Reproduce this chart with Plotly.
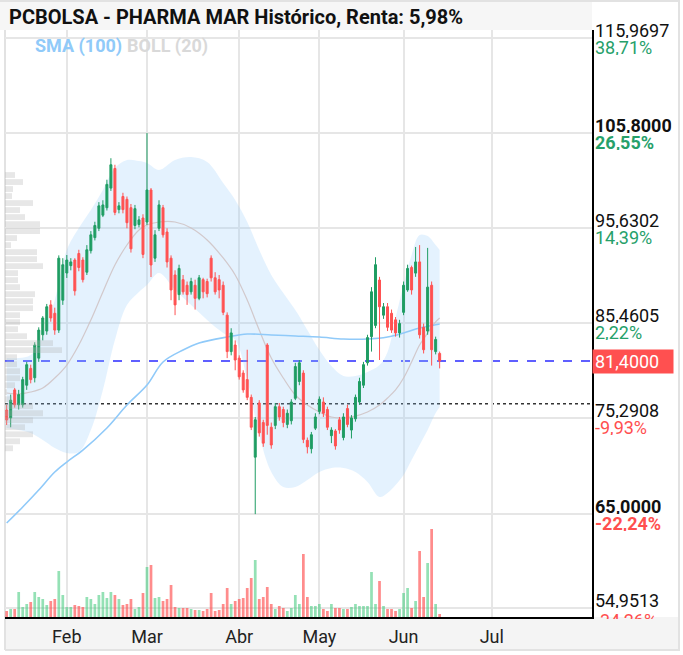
import pandas as pd
import plotly.graph_objects as go

# ---------------- data ----------------
holidays = ["2021-04-02", "2021-04-05"]
dates = [d for d in pd.bdate_range("2021-01-11", "2021-06-14")
         if d.strftime("%Y-%m-%d") not in holidays]

open_ = [76.15, 75.30, 78.30, 76.70, 76.70, 78.80, 80.60, 79.60, 81.70, 84.20, 84.60, 87.40, 86.50, 84.70, 87.90,
         90.81, 91.60, 92.20, 92.90, 92.20, 90.90, 93.20, 94.60, 95.60, 97.00, 97.80, 99.90, 102.00, 97.60, 99.00,
         98.70, 97.80, 95.90, 96.00, 96.70,
         96.27, 99.70, 92.40, 95.60, 97.80, 95.20, 92.40, 90.60, 88.50, 90.10, 89.50, 88.80, 89.50, 88.10, 90.10,
         89.90, 92.40, 90.30, 90.10, 89.50, 86.30, 82.40, 83.10,
         81.70, 80.10, 79.40, 77.50, 71.10, 76.90, 74.80, 83.10, 74.30, 74.50, 76.50, 76.20, 74.60, 75.00, 77.40,
         79.20, 80.10, 72.90, 72.00, 74.20,
         76.00, 77.00, 76.20, 73.40, 73.90, 75.10, 73.20, 76.30, 74.00, 75.20, 77.00, 78.80, 81.20, 84.00, 85.20,
         90.06, 86.30, 87.20, 86.50, 85.80, 84.40,
         86.60, 89.00, 91.40, 90.80, 92.00, 85.00, 84.60, 89.50, 82.40, 82.20]
high = [76.68, 77.80, 78.50, 78.30, 79.70, 81.30, 81.00, 83.40, 85.00, 86.20, 87.50, 87.90, 87.10, 92.70, 92.40,
        92.74, 92.40, 92.40, 93.30, 92.50, 93.80, 95.30, 96.30, 98.40, 98.60, 100.80, 103.10, 102.40, 98.40, 99.40,
        99.00, 98.20, 98.10, 96.90, 97.10,
        105.80, 99.91, 95.40, 98.60, 98.10, 95.60, 92.70, 91.10, 91.70, 90.60, 89.90, 90.30, 90.10, 90.60, 90.30,
        90.20, 92.70, 90.90, 90.60, 89.90, 86.60, 84.90, 83.60,
        82.00, 80.40, 82.60, 77.80, 75.40, 77.20, 75.10, 83.30, 74.80, 76.90, 76.90, 76.50, 76.20, 77.30, 81.20,
        81.50, 80.40, 73.20, 73.80, 75.80,
        77.60, 77.50, 76.50, 74.30, 74.10, 75.40, 75.80, 76.70, 75.60, 77.80, 79.60, 81.30, 84.20, 89.30, 92.50,
        90.40, 87.60, 87.60, 86.90, 86.10, 85.80,
        89.90, 91.70, 91.60, 93.60, 93.80, 85.40, 93.50, 89.90, 84.00, 82.40]
low = [74.54, 74.30, 76.40, 76.20, 76.40, 78.30, 79.00, 79.10, 81.30, 83.60, 84.20, 85.60, 84.20, 84.40, 87.40,
       90.28, 91.10, 88.40, 91.00, 89.80, 90.60, 92.90, 94.30, 95.30, 96.80, 97.50, 99.60, 97.00, 97.20, 97.20,
       95.60, 93.00, 95.50, 95.70, 92.40,
       95.95, 90.38, 92.00, 95.30, 94.60, 91.40, 87.90, 86.30, 87.90, 88.50, 87.40, 88.50, 86.90, 87.90, 88.10,
       88.20, 89.90, 88.50, 88.10, 86.30, 81.70, 82.00, 80.40,
       79.40, 78.00, 77.20, 74.00, 65.00, 73.30, 72.20, 73.50, 72.00, 74.10, 75.00, 74.30, 74.20, 74.60, 77.20,
       78.80, 72.60, 71.50, 71.50, 74.00,
       75.70, 75.40, 74.00, 72.60, 71.90, 73.60, 72.90, 74.30, 73.10, 74.90, 76.70, 78.50, 80.90, 82.40, 84.90,
       81.50, 85.90, 84.60, 84.40, 84.00, 83.90,
       86.30, 88.80, 88.50, 90.40, 83.80, 82.20, 84.20, 80.90, 82.10, 80.60]
close = [75.08, 77.20, 76.70, 77.80, 79.40, 81.00, 79.40, 83.10, 84.70, 86.00, 87.20, 86.00, 84.70, 92.40, 91.70,
         92.20, 92.00, 88.90, 91.40, 90.10, 93.30, 94.90, 95.90, 98.00, 98.10, 100.30, 102.40, 97.30, 98.00, 97.60,
         96.20, 93.40, 97.70, 96.50, 92.80,
         99.70, 91.67, 94.90, 98.10, 94.90, 92.00, 89.00, 87.40, 91.30, 88.80, 88.50, 89.90, 88.10, 90.30, 88.80,
         88.60, 90.30, 88.80, 89.00, 86.60, 82.40, 84.40, 81.50,
         79.70, 78.30, 77.50, 74.30, 75.10, 73.70, 72.60, 74.50, 72.40, 76.50, 75.40, 74.80, 75.80, 77.00, 80.80,
         81.20, 73.00, 72.20, 73.50, 75.40,
         77.30, 75.80, 74.30, 74.00, 72.30, 74.00, 75.40, 74.60, 75.30, 77.50, 79.20, 81.00, 83.90, 88.80, 91.70,
         87.20, 87.20, 85.00, 84.70, 84.40, 85.40,
         89.50, 91.30, 89.00, 92.00, 84.20, 82.60, 89.30, 82.60, 83.70, 81.40]
volume_k = [30, 40, 40, 125, 50, 65, 75, 125, 100, 90, 60, 80, 90, 230, 110,
            50, 50, 60, 55, 50, 100, 90, 65, 110, 125, 95, 125, 110, 90, 60, 65, 90, 40, 50, 120,
            250, 260, 95, 100, 80, 90, 160, 50, 45, 45, 45, 40, 35, 35, 30, 40, 120, 30, 35, 65, 145, 65, 80,
            90, 95, 145, 195, 285, 90, 100, 150, 65, 40, 55, 45, 30, 45, 110, 65, 315, 100, 55, 55,
            65, 40, 30, 65, 45, 45, 40, 40, 50, 65, 55, 55, 55, 225, 65, 180, 55, 40, 40, 30, 40,
            120, 145, 45, 80, 330, 100, 270, 440, 65, 15]

# Bollinger (20) at sample sessions (index into dates)
bb_idx = [0, 3, 6, 9, 12, 15, 18, 21, 24, 27, 30, 33, 35, 38, 42, 46, 50, 54, 57, 60, 63, 66, 69, 72, 75,
          78, 81, 84, 87, 90, 93, 95, 97, 99, 101, 103, 105, 107, 108]
bb_upper = [81.71, 81.71, 82.03, 84.18, 87.92, 93.28, 95.63, 97.56, 99.70, 102.05, 102.91, 102.80, 102.59,
            101.84, 102.91, 103.23, 102.70, 100.45, 98.63, 96.27, 93.28, 90.60, 88.67, 86.85, 84.71,
            82.57, 80.86, 79.79, 79.79, 80.21, 80.96, 82.36, 86.00, 89.53, 92.74, 94.88, 94.77, 93.81, 93.28]
bb_lower = [74.22, 74.01, 73.68, 72.93, 72.08, 71.54, 71.65, 74.01, 78.29, 83.64, 87.39, 88.78, 89.53,
            90.81, 88.99, 87.39, 85.78, 84.39, 83.64, 79.36, 73.47, 69.51, 67.90, 67.90, 68.65,
            69.51, 69.94, 69.94, 69.51, 68.44, 66.83, 67.26, 68.12, 69.19, 70.79, 72.40, 74.01, 75.83, 76.47]
bb_mid = [77.97, 77.86, 78.07, 78.50, 79.57, 80.96, 83.10, 85.78, 88.78, 91.67, 93.81, 95.42, 95.95,
          96.27, 96.27, 95.63, 94.35, 92.42, 90.60, 87.92, 84.71, 81.71, 79.57, 77.75, 76.68,
          75.93, 75.40, 75.29, 75.50, 75.93, 76.68, 77.43, 78.29, 79.57, 81.29, 83.10, 84.39, 85.57, 85.99]

# SMA (100)
sma_idx = [0, 4, 8, 12, 15, 19, 25, 30, 35, 39, 44, 48, 55, 60, 66, 72, 78, 84, 90, 95, 99, 103, 108]
sma100 = [64.05, 65.76, 67.58, 69.51, 70.58, 71.86, 74.22, 76.68, 78.82, 81.29, 82.57, 83.32, 83.96,
          84.28, 84.18, 84.07, 83.96, 83.75, 83.75, 83.96, 84.39, 84.92, 85.35]

# volume by price (left profile)
prof_price = [101.30, 100.55, 99.80, 99.05, 98.30, 97.55, 96.80, 96.05, 95.30, 94.55, 93.80, 93.05, 92.30,
              91.55, 90.80, 90.05, 89.30, 88.55, 87.80, 87.05, 86.30, 85.55, 84.80, 84.05, 83.30, 82.55,
              81.80, 81.05, 80.30, 79.55, 78.80, 78.05, 77.30, 76.55, 75.80, 75.05, 74.30, 73.55, 72.80, 72.05]
prof_vol = [100, 180, 80, 70, 280, 150, 200, 350, 350, 120, 60, 320, 320, 380, 130, 130, 150, 300, 280, 280,
            150, 150, 130, 220, 480, 570, 120, 120, 150, 150, 100, 20, 70, 280, 380, 280, 200, 280, 150, 80]

year_start = 76.81
title_text = "PCBOLSA - PHARMA MAR Histórico, Renta: 5,98%"
ytick_vals = [115.9697, 105.8, 95.6302, 85.4605, 75.2908, 65.0, 54.9513]
ytick_pct = ["38,71%", "26,55%", "14,39%", "2,22%", "-9,93%", "-22,24%", "-34,26%"]
ytick_bold = [False, True, False, False, False, True, False]
xtick_dates = ["2021-02-01", "2021-03-01", "2021-04-01", "2021-05-03", "2021-06-01", "2021-07-01"]
xtick_text = ["Feb", "Mar", "Abr", "May", "Jun", "Jul"]

# ---------------- style ----------------
GREEN = "#1f9d63"
RED = "#ff5252"
PCT_GREEN = "#26a06a"
PCT_RED = "#ff4f4f"
FONT = "Roboto"
W, H = 683, 655
L, R, T, B = 5, 91, 30, 38
PW, PH = W - L - R, H - T - B
Y_RANGE = [53.988, 116.826]

def px_x(px):
    return (px - L) / PW

def px_y(py):
    return 1 - (py - T) / PH

bb_x = [dates[i] for i in bb_idx]
sma_x = [dates[i] for i in sma_idx]
vol_colors = ["rgba(60,200,120,0.55)" if c >= o else "rgba(255,70,70,0.62)" for o, c in zip(open_, close)]

fig = go.Figure()
fig.add_trace(go.Scatter(x=bb_x, y=bb_lower, mode="lines", line=dict(width=0, shape="spline"),
                         hoverinfo="skip", showlegend=False))
fig.add_trace(go.Scatter(x=bb_x, y=bb_upper, mode="lines", line=dict(width=0, shape="spline"),
                         fill="tonexty", fillcolor="rgba(144,202,249,0.24)", hoverinfo="skip", showlegend=False))
fig.add_trace(go.Scatter(x=bb_x, y=bb_mid, mode="lines",
                         line=dict(color="rgba(205,190,190,0.8)", width=1.2, shape="spline"), showlegend=False))
fig.add_trace(go.Scatter(x=sma_x, y=sma100, mode="lines",
                         line=dict(color="#90caf9", width=1.6, shape="spline"), showlegend=False))
fig.add_trace(go.Bar(y=prof_price, x=prof_vol, orientation="h", xaxis="x2", yaxis="y",
                     width=0.62, marker=dict(color="rgba(175,175,175,0.3)", line=dict(width=0)),
                     showlegend=False))
fig.add_trace(go.Bar(x=dates, y=volume_k, yaxis="y2", marker=dict(color=vol_colors, line=dict(width=0)),
                     showlegend=False))
fig.add_trace(go.Candlestick(x=dates, open=open_, high=high, low=low, close=close, yaxis="y3",
                             increasing=dict(line=dict(color=GREEN, width=1), fillcolor=GREEN),
                             decreasing=dict(line=dict(color=RED, width=1), fillcolor=RED),
                             showlegend=False))

annotations = []
last = len(ytick_vals) - 1
for i, (v, pct, bold) in enumerate(zip(ytick_vals, ytick_pct, ytick_bold)):
    price_txt = f"{v:.4f}".replace(".", ",")
    col = PCT_GREEN if not pct.startswith("-") else PCT_RED
    if bold:
        price_txt = f"<b>{price_txt}</b>"
        pct = f"<b>{pct}</b>"
    annotations.append(dict(x=1, xref="paper", y=v, yref="y", xanchor="left", yanchor="middle",
                            xshift=2, yshift=8, height=16, borderpad=0, text=price_txt, showarrow=False,
                            font=dict(family=FONT, size=18, color="#111")))
    if i == last:
        # partly hidden by the date band, as in the original
        annotations.append(dict(x=1, xref="paper", y=v, yref="y", xanchor="left", yanchor="top",
                                xshift=2, yshift=-1, height=9, valign="top", borderpad=0, text=pct,
                                showarrow=False, font=dict(family=FONT, size=18, color=col)))
    else:
        annotations.append(dict(x=1, xref="paper", y=v, yref="y", xanchor="left", yanchor="middle",
                                xshift=2, yshift=-9, height=16, borderpad=0, text=pct, showarrow=False,
                                font=dict(family=FONT, size=18, color=col)))
# current price tag
annotations.append(dict(x=1, xref="paper", y=close[-1], yref="y", xanchor="left", yanchor="middle",
                        xshift=0, yshift=-1, text=f"{close[-1]:.4f}".replace(".", ","), showarrow=False,
                        bgcolor="#ff5050", width=76, height=19, align="left", borderpad=2,
                        font=dict(family=FONT, size=18, color="white")))
# title & legend
annotations.append(dict(x=px_x(7), xref="paper", y=px_y(17), yref="paper", xanchor="left",
                        yanchor="middle", text=f"<b>{title_text}</b>", showarrow=False,
                        font=dict(family=FONT, size=20, color="#111")))
annotations.append(dict(x=px_x(33), xref="paper", y=px_y(46), yref="paper", xanchor="left",
                        yanchor="middle", text="<b>SMA (100)</b>", showarrow=False,
                        font=dict(family=FONT, size=18, color="#90caf9")))
annotations.append(dict(x=px_x(125), xref="paper", y=px_y(46), yref="paper", xanchor="left",
                        yanchor="middle", text="<b>BOLL (20)</b>", showarrow=False,
                        font=dict(family=FONT, size=18, color="#d9d9d9")))

shapes = [
    # title bar
    dict(type="rect", xref="paper", yref="paper", x0=px_x(0), x1=px_x(592), y0=px_y(30), y1=px_y(0),
         fillcolor="#f6f6f6", line=dict(width=0), layer="below"),
    # x axis band
    dict(type="rect", xref="paper", yref="paper", x0=px_x(5), x1=px_x(679), y0=px_y(650), y1=px_y(617),
         fillcolor="#f4f4f4", line=dict(width=0), layer="below"),
    # borders
    dict(type="line", xref="paper", yref="paper", x0=px_x(0), x1=px_x(680), y0=px_y(1), y1=px_y(1),
         line=dict(color="#e2e2e2", width=2), layer="below"),
    dict(type="line", xref="paper", yref="paper", x0=px_x(679), x1=px_x(679), y0=px_y(0), y1=px_y(651),
         line=dict(color="#e2e2e2", width=2), layer="below"),
    dict(type="line", xref="paper", yref="paper", x0=px_x(5), x1=px_x(680), y0=px_y(650), y1=px_y(650),
         line=dict(color="#e2e2e2", width=2), layer="below"),
    dict(type="line", xref="paper", yref="paper", x0=px_x(5), x1=px_x(5), y0=px_y(30), y1=px_y(650),
         line=dict(color="#e2e2e2", width=2), layer="below"),
    # last price & year start lines
    dict(type="line", xref="paper", yref="y", x0=0, x1=1, y0=close[-1], y1=close[-1],
         line=dict(color="#2b2bff", width=1.6, dash="dash"), layer="between"),
    dict(type="line", xref="paper", yref="y", x0=0, x1=1, y0=year_start, y1=year_start,
         line=dict(color="#333", width=1.4, dash="dot"), layer="between"),
]

fig.update_layout(
    width=W, height=H, margin=dict(l=L, r=R, t=T, b=B),
    paper_bgcolor="white", plot_bgcolor="white",
    font=dict(family=FONT, size=18, color="#222"),
    showlegend=False, bargap=0.32,
    annotations=annotations, shapes=shapes,
    xaxis=dict(type="date", range=["2021-01-08 14:00", "2021-08-05"],
               rangebreaks=[dict(bounds=["sat", "mon"]), dict(values=holidays)],
               tickvals=xtick_dates, ticktext=xtick_text, ticks="",
               showgrid=True, gridcolor="#e6e6e6", gridwidth=1.5,
               showline=True, linecolor="black", linewidth=2,
               rangeslider=dict(visible=False), tickfont=dict(size=18, color="#222"),
               ticklabelstandoff=2),
    xaxis2=dict(overlaying="x", range=[0, 5870], visible=False, anchor="y"),
    yaxis=dict(side="right", range=Y_RANGE, tickvals=ytick_vals, showticklabels=False, ticks="",
               showgrid=True, gridcolor="#e6e6e6", gridwidth=1.5, zeroline=False,
               showline=True, linecolor="black", linewidth=2),
    yaxis2=dict(overlaying="y", range=[0, 2935], visible=False),
    yaxis3=dict(overlaying="y", range=Y_RANGE, visible=False),
)

fig.write_html("out.html", config={"displayModeBar": False},
               post_script="document.body.style.margin='0';document.body.style.padding='0';"
                           "document.documentElement.style.overflow='hidden';")
